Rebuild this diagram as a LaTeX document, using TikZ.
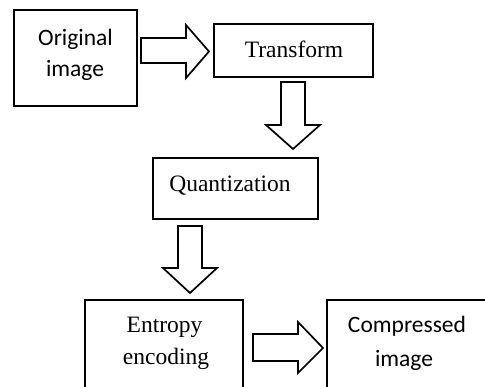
\documentclass[tikz,border=0pt]{standalone}
\usepackage{fontspec}
\setmainfont{Liberation Serif}
\newfontfamily\calfont{Carlito}
\tikzset{
  boxshape/.style={draw=black, line width=2pt, rectangle, inner sep=0pt, fill=white},
  barrow/.style={draw=black, line width=1.7pt, fill=white, line join=miter},
  serif/.style={font=\fontsize{23.5}{32}\selectfont, inner sep=0pt, anchor=base},
  sans/.style={font=\calfont\fontsize{23.5}{32}\selectfont, inner sep=0pt, anchor=base},
}
\begin{document}
\begin{tikzpicture}[x=1pt, y=-1pt]
\useasboundingbox (0,0) rectangle (485,387);
\clip (0,0) rectangle (485,387);
\fill[white] (0,0) rectangle (485,387);
% boxes
\node[boxshape, minimum width=123pt, minimum height=96pt] (orig) at (75.5,58) {};
\node[boxshape, minimum width=159pt, minimum height=53pt] (trans) at (293.5,50.5) {};
\node[boxshape, minimum width=165pt, minimum height=61pt] (quant) at (235.5,188.5) {};
\node[boxshape, minimum width=158pt, minimum height=130pt] (entropy) at (164,365) {};
\node[boxshape, minimum width=200pt, minimum height=130pt] (comp) at (427,365) {};
% texts
\node[sans] (t1a) at (75.5,45.5) {Original};
\node[sans] (t1b) at (75,77) {image};
\node[serif] (t2) at (294,58) {Transform};
\node[serif] (t3) at (230,192) {Quantization};
\node[serif] (t4a) at (164.5,333) {Entropy};
\node[serif] (t4b) at (166,365) {encoding};
\node[sans] (t5a) at (407,333) {Compressed};
\node[sans] (t5b) at (404,366.5) {image};
% block arrows
\draw[barrow] (141,38) -- (186,38) -- (186,25) -- (209,51.5) -- (186,78) -- (186,63) -- (141,63) -- cycle;
\draw[barrow] (281,82) -- (305,82) -- (305,125) -- (320,125) -- (293,149) -- (266,125) -- (281,125) -- cycle;
\draw[barrow] (178,226) -- (202,226) -- (202,268) -- (217,268) -- (190,293) -- (163,268) -- (178,268) -- cycle;
\draw[barrow] (253,334) -- (298,334) -- (298,322) -- (323,348) -- (298,373) -- (298,361) -- (253,361) -- cycle;
\end{tikzpicture}
\end{document}
